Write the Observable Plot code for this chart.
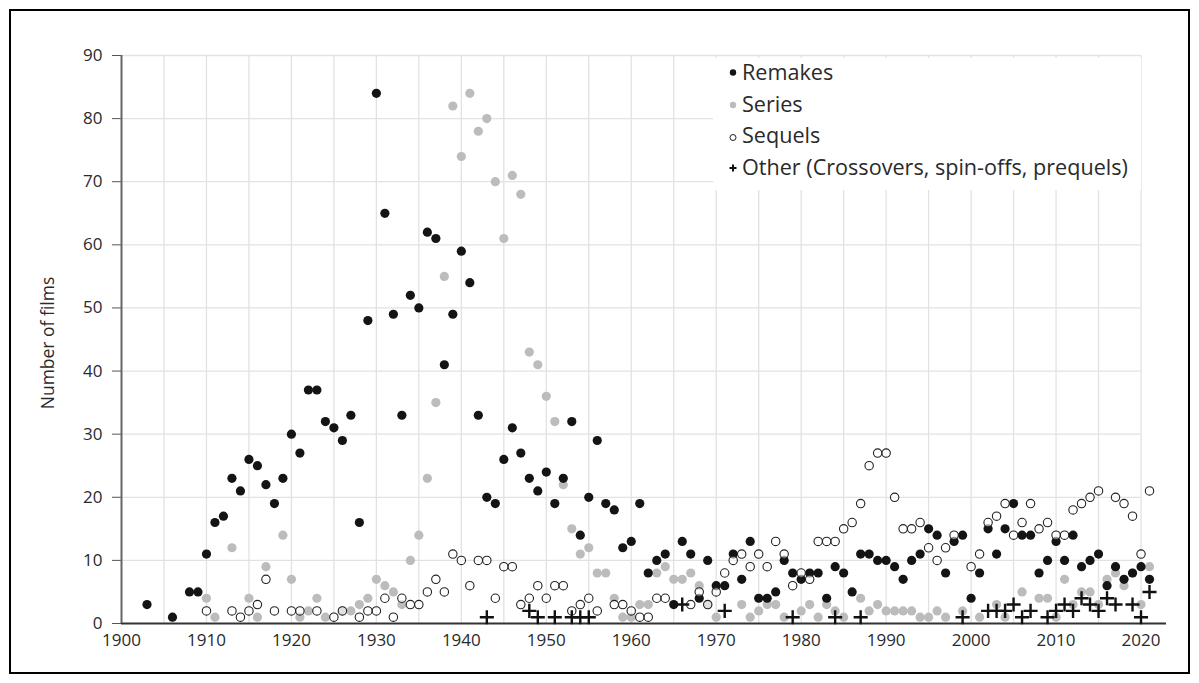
<!DOCTYPE html>
<html><head><meta charset="utf-8">
<script src="https://cdn.jsdelivr.net/npm/d3@7"></script>
<script src="https://cdn.jsdelivr.net/npm/@observablehq/plot@0.6"></script>
<style>
body{margin:0;background:#fff;}
#wrap{position:relative;width:1199px;height:683px;overflow:hidden;background:#fff;}
#chart{position:absolute;left:0;top:0;}
#legend{position:absolute;left:0;top:0;}
#frame{position:absolute;left:9px;top:9px;width:1181px;height:665px;border:2px solid #000;box-sizing:border-box;pointer-events:none;}
</style></head><body>
<div id="wrap"><div id="chart"></div><svg id="legend" width="1199" height="683"></svg><div id="frame"></div></div>
<script>
// [year, number of films]
const remakes = [[1903,3],[1906,1],[1908,5],[1909,5],[1910,11],[1911,16],[1912,17],[1913,23],[1914,21],[1915,26],[1916,25],[1917,22],[1918,19],[1919,23],[1920,30],[1921,27],[1922,37],[1923,37],[1924,32],[1925,31],[1926,29],[1927,33],[1928,16],[1929,48],[1930,84],[1931,65],[1932,49],[1933,33],[1934,52],[1935,50],[1936,62],[1937,61],[1938,41],[1939,49],[1940,59],[1941,54],[1942,33],[1943,20],[1944,19],[1945,26],[1946,31],[1947,27],[1948,23],[1949,21],[1950,24],[1951,19],[1952,23],[1953,32],[1954,14],[1955,20],[1956,29],[1957,19],[1958,18],[1959,12],[1960,13],[1961,19],[1962,8],[1963,10],[1964,11],[1965,3],[1966,13],[1967,11],[1968,4],[1969,10],[1970,6],[1971,6],[1972,11],[1973,7],[1974,13],[1975,4],[1976,4],[1977,5],[1978,10],[1979,8],[1980,7],[1981,8],[1982,8],[1983,4],[1984,9],[1985,8],[1986,5],[1987,11],[1988,11],[1989,10],[1990,10],[1991,9],[1992,7],[1993,10],[1994,11],[1995,15],[1996,14],[1997,8],[1998,13],[1999,14],[2000,4],[2001,8],[2002,15],[2003,11],[2004,15],[2005,19],[2006,14],[2007,14],[2008,8],[2009,10],[2010,13],[2011,10],[2012,14],[2013,9],[2014,10],[2015,11],[2016,6],[2017,9],[2018,7],[2019,8],[2020,9],[2021,7]];
const series = [[1910,4],[1911,1],[1913,12],[1915,4],[1916,1],[1917,9],[1919,14],[1920,7],[1921,1],[1922,2],[1923,4],[1924,1],[1926,2],[1927,2],[1928,3],[1929,4],[1930,7],[1931,6],[1932,5],[1933,3],[1934,10],[1935,14],[1936,23],[1937,35],[1938,55],[1939,82],[1940,74],[1941,84],[1942,78],[1943,80],[1944,70],[1945,61],[1946,71],[1947,68],[1948,43],[1949,41],[1950,36],[1951,32],[1952,22],[1953,15],[1954,11],[1955,12],[1956,8],[1957,8],[1958,4],[1959,1],[1960,1],[1961,3],[1962,3],[1963,8],[1964,9],[1965,7],[1966,7],[1967,8],[1968,6],[1969,3],[1970,1],[1973,3],[1974,1],[1975,2],[1976,3],[1977,3],[1978,1],[1980,2],[1981,3],[1982,1],[1983,3],[1984,2],[1985,1],[1987,4],[1988,2],[1989,3],[1990,2],[1991,2],[1992,2],[1993,2],[1994,1],[1995,1],[1996,2],[1997,1],[1999,2],[2001,1],[2003,3],[2004,1],[2006,5],[2008,4],[2009,4],[2010,1],[2011,7],[2012,3],[2013,5],[2014,5],[2015,3],[2016,7],[2017,8],[2018,6],[2019,8],[2020,3],[2021,9]];
const sequels = [[1910,2],[1913,2],[1914,1],[1915,2],[1916,3],[1917,7],[1918,2],[1920,2],[1921,2],[1923,2],[1925,1],[1926,2],[1928,1],[1929,2],[1930,2],[1931,4],[1932,1],[1933,4],[1934,3],[1935,3],[1936,5],[1937,7],[1938,5],[1939,11],[1940,10],[1941,6],[1942,10],[1943,10],[1944,4],[1945,9],[1946,9],[1947,3],[1948,4],[1949,6],[1950,4],[1951,6],[1952,6],[1953,2],[1954,3],[1955,4],[1956,2],[1958,3],[1959,3],[1960,2],[1961,1],[1962,1],[1963,4],[1964,4],[1967,3],[1968,5],[1969,3],[1970,5],[1971,8],[1972,10],[1973,11],[1974,9],[1975,11],[1976,9],[1977,13],[1978,11],[1979,6],[1980,8],[1981,7],[1982,13],[1983,13],[1984,13],[1985,15],[1986,16],[1987,19],[1988,25],[1989,27],[1990,27],[1991,20],[1992,15],[1993,15],[1994,16],[1995,12],[1996,10],[1997,12],[1998,14],[2000,9],[2001,11],[2002,16],[2003,17],[2004,19],[2005,14],[2006,16],[2007,19],[2008,15],[2009,16],[2010,14],[2011,14],[2012,18],[2013,19],[2014,20],[2015,21],[2017,20],[2018,19],[2019,17],[2020,11],[2021,21]];
const other = [[1943,1],[1948,2],[1949,1],[1951,1],[1953,1],[1954,1],[1955,1],[1966,3],[1971,2],[1979,1],[1984,1],[1987,1],[1999,1],[2002,2],[2003,2],[2004,2],[2005,3],[2006,1],[2007,2],[2009,1],[2010,2],[2011,3],[2012,2],[2013,4],[2014,3],[2015,2],[2016,4],[2017,3],[2019,3],[2020,1],[2021,5]];
const xTicks = [1900,1910,1920,1930,1940,1950,1960,1970,1980,1990,2000,2010,2020];
const yTicks = [0,10,20,30,40,50,60,70,80,90];
const legendLabels = ["Remakes","Series","Sequels","Other (Crossovers, spin-offs, prequels)"];

const FONT = "'Open Sans', sans-serif";
const chart = Plot.plot({
  width: 1199, height: 683,
  marginLeft: 121, marginRight: 33, marginTop: 55, marginBottom: 60,
  x: {domain: [1900, 2023]},
  y: {domain: [0, 90]},
  style: {fontFamily: FONT, fontSize: "17px", color: "#2a2a2a", background: "transparent"},
  marks: [
    Plot.ruleX(d3.range(1905, 2021, 5), {y1: 0, y2: 90, stroke: "#e2e2e2", strokeWidth: 1.3}),
    Plot.ruleY(d3.range(10, 91, 10), {x1: 1900, x2: 2020, stroke: "#e2e2e2", strokeWidth: 1.3}),
    Plot.axisY({ticks: yTicks, tickSize: 9, tickPadding: 10, stroke: "#555", label: null, fontSize: 17}),
    Plot.axisX({ticks: xTicks, tickSize: 0, tickPadding: 10, tickFormat: d => String(d), label: null, fontSize: 17}),
    Plot.ruleX([1900], {y1: 0, y2: 90, stroke: "#666", strokeWidth: 2}),
    Plot.ruleY([0], {x1: 1900, x2: 2023, stroke: "#333", strokeWidth: 2}),
    Plot.dot(series, {x: d => d[0], y: d => d[1], r: 4.6, fill: "#bcbcbc"}),
    Plot.dot(remakes, {x: d => d[0], y: d => d[1], r: 4.6, fill: "#141414"}),
    Plot.dot(sequels, {x: d => d[0], y: d => d[1], r: 4.2, fill: "white", fillOpacity: 0.55, stroke: "#222", strokeWidth: 1.1}),
    Plot.dot(other, {x: d => d[0], y: d => d[1], r: 4.6, symbol: "plus", stroke: "#111", strokeWidth: 2.4})
  ]
});
document.getElementById("chart").appendChild(chart);

// y-axis title
const lg = d3.select("#legend");
lg.append("text").attr("transform", "translate(54,343) rotate(-90)")
  .attr("text-anchor", "middle").attr("font-family", FONT).attr("font-size", 17.5)
  .attr("fill", "#2a2a2a").text("Number of films");

// legend box
lg.append("rect").attr("x", 713).attr("y", 58).attr("width", 428).attr("height", 132).attr("fill", "white");
const rowsY = [72, 104, 135.5, 167];
legendLabels.forEach((t, i) => {
  const cy = rowsY[i];
  if (i === 0) lg.append("circle").attr("cx", 733).attr("cy", cy + 0.5).attr("r", 3.2).attr("fill", "#141414");
  if (i === 1) lg.append("circle").attr("cx", 733).attr("cy", cy + 1).attr("r", 3.2).attr("fill", "#bcbcbc");
  if (i === 2) lg.append("circle").attr("cx", 733).attr("cy", cy + 2).attr("r", 3).attr("fill", "white").attr("stroke", "#222").attr("stroke-width", 1);
  if (i === 3) lg.append("path").attr("d", "M-3.5,0H3.5M0,-3.5V3.5").attr("transform", `translate(733,${cy + 1})`)
    .attr("fill", "none").attr("stroke", "#111").attr("stroke-width", 2);
  lg.append("text").attr("x", 742).attr("y", cy + 7.5).attr("font-family", FONT).attr("font-size", 21.6)
    .attr("fill", "#2a2a2a").text(t);
});
</script>
</body></html>
